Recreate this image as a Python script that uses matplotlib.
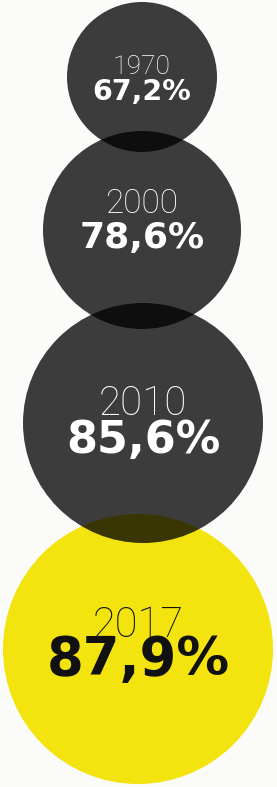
import matplotlib
matplotlib.use('Agg')
import matplotlib.pyplot as plt
from matplotlib.patches import Circle

years = ['1970', '2000', '2010', '2017']
values = [67.2, 78.6, 85.6, 87.9]
labels = [f'{v:.1f}%'.replace('.', ',') for v in values]

# layout of the bubbles in pixels (x, y from top, radius)
cx = [142, 142, 143, 138]
cy = [77, 230, 423, 649]
rad = [75, 99, 120, 135]
year_y = [74, 213, 415, 637]
val_y = [100, 248, 453, 675]
year_size = [19, 24, 29, 30]
val_size = [20.5, 26, 32, 38]

fig = plt.figure(figsize=(2.77, 7.87), dpi=100)
fig.patch.set_facecolor('#fbfbfa')
ax = fig.add_axes([0, 0, 1, 1])
ax.set_xlim(0, 277)
ax.set_ylim(787, 0)
ax.set_aspect('equal')
ax.axis('off')

# last year highlighted in yellow, drawn first so the dark ones darken it
ax.add_patch(Circle((cx[3], cy[3]), rad[3], color='#f3e30e', lw=0, zorder=1))
for i in range(3):
    ax.add_patch(Circle((cx[i], cy[i]), rad[i], color='black', alpha=0.76, lw=0, zorder=2))

for i in range(4):
    tc = 'white' if i < 3 else '#111111'
    ax.text(cx[i], year_y[i], years[i], ha='center', va='baseline', color=tc,
            fontsize=year_size[i], family='Roboto', fontweight='light', zorder=5)
    ax.text(cx[i], val_y[i], labels[i], ha='center', va='baseline', color=tc,
            fontsize=val_size[i], family='DejaVu Sans', fontweight='bold', zorder=5)

fig.savefig('out.png', dpi=100, facecolor=fig.get_facecolor())
